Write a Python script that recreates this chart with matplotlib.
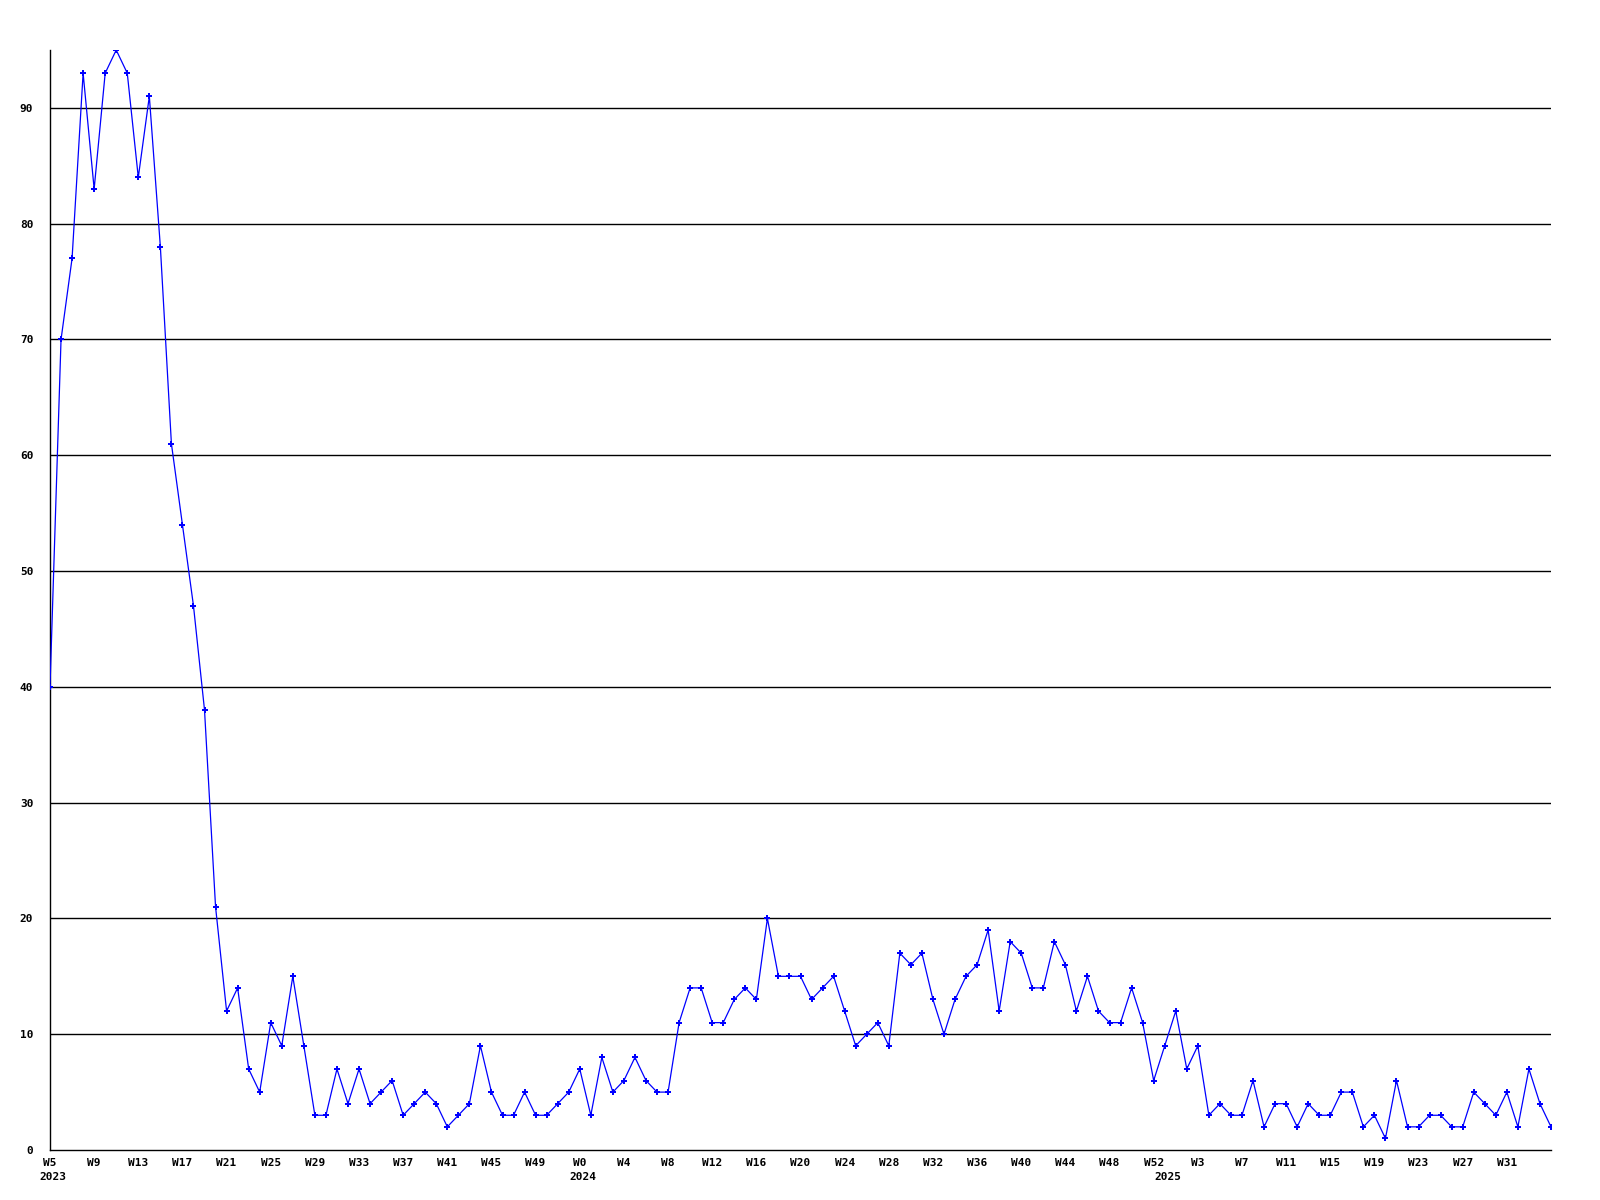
import matplotlib
matplotlib.use("Agg")
import matplotlib.pyplot as plt

# weekly values, 2023 W5 .. 2025 W35
values = [40, 70, 77, 93, 83, 93, 95, 93, 84, 91, 78, 61, 54, 47, 38, 21,
          12, 14, 7, 5, 11, 9, 15, 9, 3, 3, 7, 4, 7, 4, 5, 6,
          3, 4, 5, 4, 2, 3, 4, 9, 5, 3, 3, 5, 3, 3, 4, 5,
          7, 3, 8, 5, 6, 8, 6, 5, 5, 11, 14, 14, 11, 11, 13, 14,
          13, 20, 15, 15, 15, 13, 14, 15, 12, 9, 10, 11, 9, 17, 16, 17,
          13, 10, 13, 15, 16, 19, 12, 18, 17, 14, 14, 18, 16, 12, 15, 12,
          11, 11, 14, 11, 6, 9, 12, 7, 9, 3, 4, 3, 3, 6, 2, 4,
          4, 2, 4, 3, 3, 5, 5, 2, 3, 1, 6, 2, 2, 3, 3, 2,
          2, 5, 4, 3, 5, 2, 7, 4, 2]

tick_labels = ["W5", "W9", "W13", "W17", "W21", "W25", "W29", "W33", "W37",
               "W41", "W45", "W49", "W0", "W4", "W8", "W12", "W16", "W20",
               "W24", "W28", "W32", "W36", "W40", "W44", "W48", "W52", "W3",
               "W7", "W11", "W15", "W19", "W23", "W27", "W31"]
year_labels = ["2023", "2024", "2025"]
year_start_week = [0, 48, 101]  # index of the first week of each year

y_ticks = [0, 10, 20, 30, 40, 50, 60, 70, 80, 90]

fig = plt.figure(figsize=(16, 12), dpi=100)
ax = fig.add_axes([50 / 1600, 1 - 1150 / 1200, 1501 / 1600, 1100 / 1200])

x = list(range(len(values)))
ax.plot(x, values, color="#0000ff", linewidth=0.9, marker="P",
        markersize=5, markeredgewidth=0, zorder=3)

ax.set_xlim(0, len(values) - 1)
ax.set_ylim(0, 95)

for s in ["top", "right"]:
    ax.spines[s].set_visible(False)
ax.spines["left"].set_linewidth(1.0)
ax.spines["bottom"].set_linewidth(1.0)

for yv in y_ticks[1:]:
    ax.axhline(yv, color="black", linewidth=1.0, zorder=1)

font = dict(family="DejaVu Sans Mono", fontsize=8, fontweight="bold")

ax.set_yticks(y_ticks)
ax.set_yticklabels([str(v) for v in y_ticks], **font)
ax.tick_params(axis="y", length=0, pad=12)

tick_pos = [i * 4 for i in range(len(tick_labels))]
ax.set_xticks(tick_pos)
ax.set_xticklabels(tick_labels, **font)
ax.tick_params(axis="x", length=0, pad=6)

for lab, wi in zip(year_labels, year_start_week):
    ax.annotate(lab, xy=(wi, 0), xycoords="data",
                xytext=(3, -27), textcoords="offset pixels",
                ha="center", va="center", **font)

fig.savefig("out.png", dpi=100, facecolor="white")
